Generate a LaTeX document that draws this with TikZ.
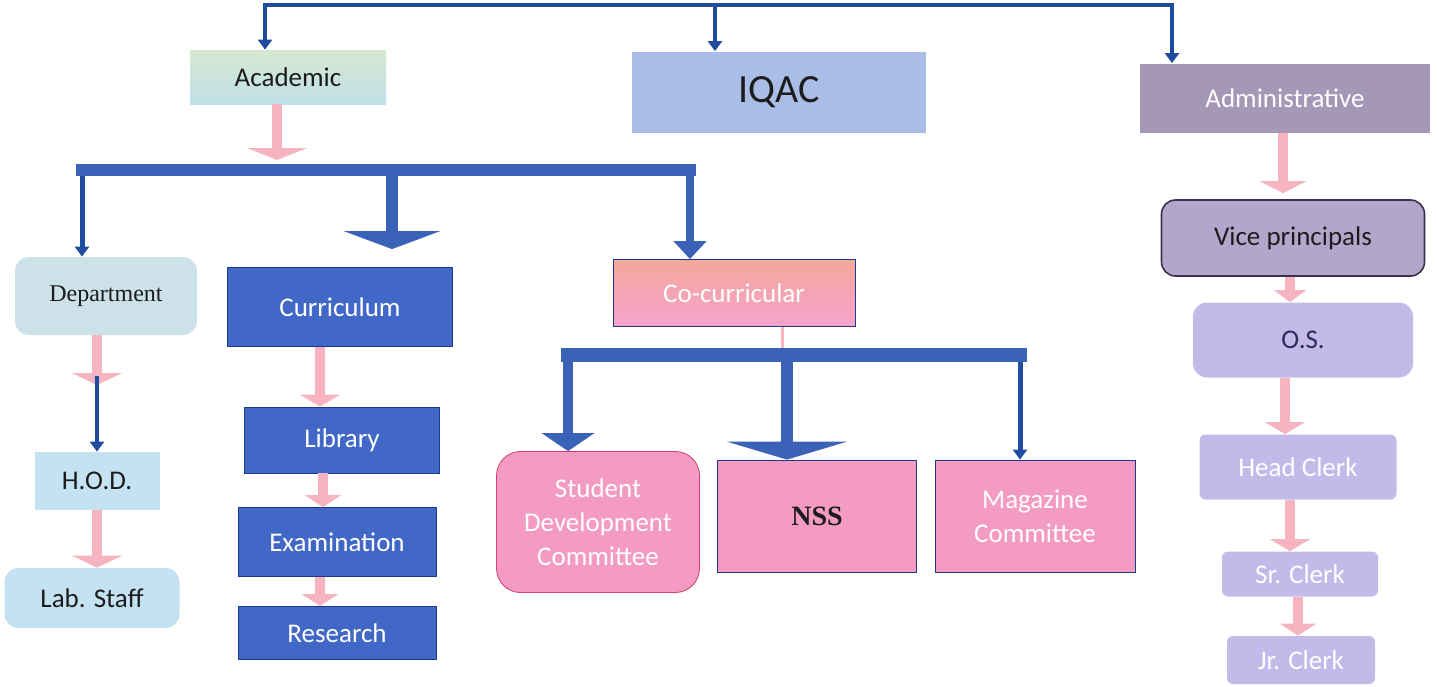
\documentclass[tikz,border=0pt]{standalone}
\usepackage{fontspec}
\setmainfont{Carlito}
\newfontfamily\timesfont{Liberation Serif}
\usetikzlibrary{arrows.meta,positioning,calc}
\definecolor{linkblue}{HTML}{1F4C9E}
\definecolor{barblue}{HTML}{3A63B8}
\definecolor{feedpink}{HTML}{F6B4C0}
\definecolor{textdark}{HTML}{1C1C1C}
\definecolor{acadtop}{HTML}{D6E8CF}
\definecolor{acadbot}{HTML}{C0DFEA}
\definecolor{iqacfill}{HTML}{A9BDE6}
\definecolor{adminfill}{HTML}{A597B6}
\definecolor{deptfill}{HTML}{CCE2E8}
\definecolor{hodfill}{HTML}{C4E2F2}
\definecolor{currfill}{HTML}{4168C6}
\definecolor{currline}{HTML}{1E3A8C}
\definecolor{cotop}{HTML}{F4A79C}
\definecolor{cobot}{HTML}{F5A3CB}
\definecolor{pinkfill}{HTML}{F49BC4}
\definecolor{sdcline}{HTML}{D0406E}
\definecolor{vpfill}{HTML}{B2A6CA}
\definecolor{vpline}{HTML}{3C3250}
\definecolor{clerkfill}{HTML}{C3BAEA}
\definecolor{osblue}{HTML}{2A2D5A}
\tikzset{
  box/.style     = {rectangle, align=center, inner sep=2pt, text=textdark,
                    font=\fontsize{13.5}{17}\selectfont},
  soft/.style    = {box, rounded corners=7pt},
  wh/.style 2 args = {minimum width=#1, minimum height=#2},
  link/.style    = {draw=linkblue, line width=2pt, -{Triangle[width=7pt,length=5pt]}},
  bar/.style     = {draw=barblue, line width=#1, line cap=rect},
  bar/.default   = 6pt,
  drop/.style    = {draw=barblue, line width=5pt, -{Triangle[width=#1,length=9pt]}},
  feed/.style    = {draw=feedpink, line width=5pt, -{Triangle[width=#1,length=6pt]}},
  feed/.default  = 22pt
}
\begin{document}
\begin{tikzpicture}[x=0.5pt, y=-0.5pt]
  \useasboundingbox (0,0) rectangle (1438,686);

  % top level
  \node[box, wh={98pt}{27pt}, top color=acadtop, bottom color=acadbot] (acad) at (288,77) {Academic};
  \node[box, wh={147pt}{40.5pt}, fill=iqacfill, font=\fontsize{20}{24}\selectfont] (iqac) at (779,92) {IQAC};
  \node[box, wh={145pt}{34.5pt}, fill=adminfill, text=white] (admin) at (1285,98) {Administrative};

  \coordinate (root) at (715,5);
  \draw[link] (root) -| ([xshift=-11.5pt]acad.north);
  \draw[link] (root) -- (iqac.north -| root);
  \draw[link] (root) -| ([xshift=-56.5pt]admin.north);

  % academic side
  \node[soft, wh={91pt}{39pt}, fill=deptfill, font=\timesfont\fontsize{12}{14}\selectfont] (dept) at (106,296) {Department};
  \node[box, wh={112.5pt}{39.5pt}, fill=currfill, draw=currline, text=white] (curr) at (340,307) {Curriculum};
  \node[box, wh={121pt}{33.5pt}, top color=cotop, bottom color=cobot, draw=currline, text=white] (cocur) at (734,293) {Co-curricular};

  \coordinate (ab) at (277,170);
  \coordinate (a1) at (82,170);
  \coordinate (a2) at (392,170);
  \coordinate (a3) at (690,170);
  \draw[feed=30pt, shorten >=5pt] (acad.south -| ab) -- (ab);
  \draw[link, line width=2.5pt] (a1) -- (a1 |- dept.north);
  \draw[drop=48pt, line width=6pt, shorten >=9pt] (a2) -- (a2 |- curr.north);
  \draw[drop=16pt, line width=4pt] (a3) -- (a3 |- cocur.north);
  \draw[bar] (a1) -- (a3);

  \node[box, wh={62.5pt}{29pt}, fill=hodfill] (hod) at (97,481) {H.O.D.};
  \node[soft, wh={87.5pt}{30pt}, fill=hodfill] (lab) at (92,598) {Lab. Staff};
  \coordinate (d1) at (97,385);
  \coordinate (d2) at (97,376);
  \draw[feed=25pt] (dept.south -| d1) -- (d1);
  \draw[link] (d2) -- (hod.north);
  \draw[feed=25pt] (hod.south) -- (hod.south |- lab.north);

  \node[box, wh={97.5pt}{33pt}, fill=currfill, draw=currline, text=white] (lib) at (342,440) {Library};
  \node[box, wh={99pt}{34.5pt}, fill=currfill, draw=currline, text=white] (exam) at (337,542) {Examination};
  \node[box, wh={99pt}{26.5pt}, fill=currfill, draw=currline, text=white] (res) at (337,633) {Research};
  \coordinate (k1) at (320,0);
  \coordinate (k2) at (323,0);
  \draw[feed=20pt] (curr.south -| k1) -- (lib.north -| k1);
  \draw[feed=18pt] (lib.south -| k2) -- (exam.north -| k2);
  \draw[feed=18pt] (exam.south -| k1) -- (res.north -| k1);

  % co-curricular
  \node[soft, rounded corners=12pt, wh={101.5pt}{70.5pt}, fill=pinkfill, draw=sdcline, text=white] (sdc) at (598,522) {Student\\Development\\Committee};
  \node[box, wh={99.5pt}{56pt}, fill=pinkfill, draw=currline, font=\timesfont\bfseries\fontsize{14}{16}\selectfont] (nss) at (817,516) {NSS};
  \node[box, wh={100pt}{56pt}, fill=pinkfill, draw=currline, text=white] (mag) at (1035,516) {Magazine\\Committee};

  \coordinate (cb) at (782,355);
  \coordinate (c1) at (568,355);
  \coordinate (c2) at (787,355);
  \coordinate (c3) at (1020,355);
  \draw[feedpink, line width=1.5pt] (cocur.south -| cb) -- (cb);
  \draw[drop=26pt] (c1) -- (c1 |- sdc.north);
  \draw[drop=60pt, line width=6pt] (c2) -- (c2 |- nss.north);
  \draw[link, line width=2.5pt] (c3) -- (c3 |- mag.north);
  \draw[bar=7pt] (c1) -- (c3);

  % administrative side
  \node[soft, wh={131.5pt}{38pt}, fill=vpfill, draw=vpline, thick] (vp) at (1293,238) {Vice principals};
  \node[soft, wh={110pt}{37.5pt}, fill=clerkfill, text=osblue] (os) at (1303,340) {O.S.};
  \node[box, rounded corners=3pt, wh={98.5pt}{32.5pt}, fill=clerkfill, text=white] (hc) at (1298,467) {Head Clerk};
  \node[box, rounded corners=3pt, wh={78pt}{22.5pt}, fill=clerkfill, text=white] (sc) at (1300,574) {Sr. Clerk};
  \node[box, rounded corners=3pt, wh={74pt}{24pt}, fill=clerkfill, text=white] (jc) at (1301,660) {Jr. Clerk};
  \coordinate (m1) at (1283,0);
  \coordinate (m2) at (1290,0);
  \coordinate (m3) at (1285,0);
  \coordinate (m4) at (1298,0);
  \draw[feed=23pt, shorten >=3pt] (admin.south -| m1) -- (vp.north -| m1);
  \draw[feed=16pt] (vp.south -| m2) -- (os.north -| m2);
  \draw[feed=20pt] (os.south -| m3) -- (hc.north -| m3);
  \draw[feed=20pt] (hc.south -| m2) -- (sc.north -| m2);
  \draw[feed=18pt] (sc.south -| m4) -- (jc.north -| m4);
\end{tikzpicture}
\end{document}
